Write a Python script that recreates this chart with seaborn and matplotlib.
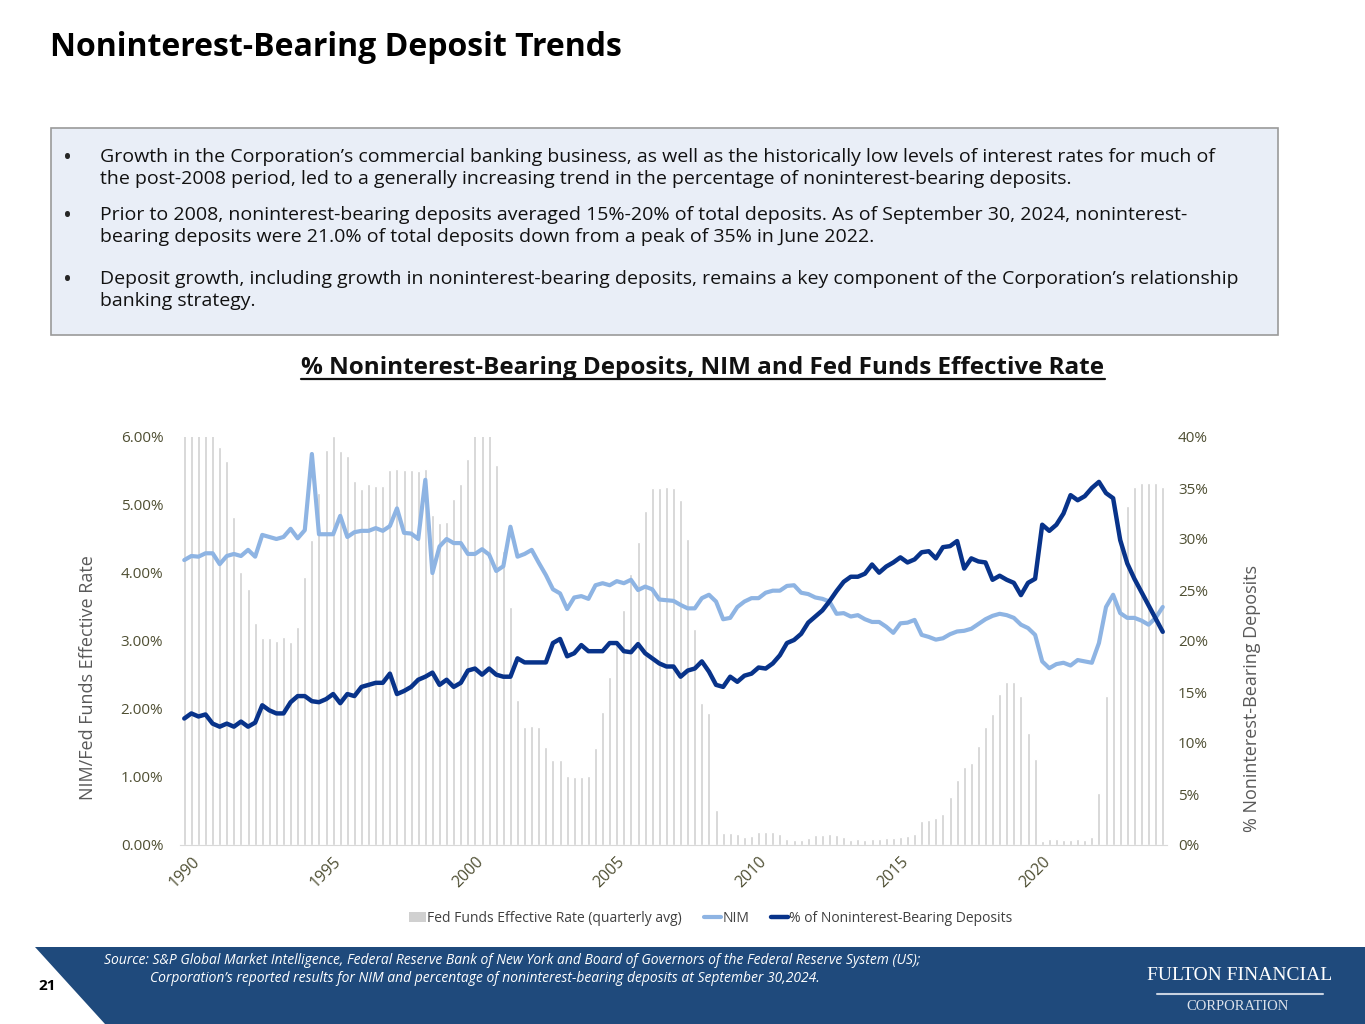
import numpy as np
import pandas as pd
import matplotlib
matplotlib.use("Agg")
import matplotlib.pyplot as plt
from matplotlib.patches import Polygon, Rectangle, Patch
from matplotlib.lines import Line2D
import seaborn as sns

# quarterly data, 1990 Q1 .. 2024 Q3
fed_funds = [
    8.25, 8.24, 8.16, 7.74, 6.43, 5.86, 5.64, 4.82, 4.02, 3.77, 3.26, 3.04,
    3.04, 3.00, 3.06, 2.99, 3.21, 3.94, 4.49, 5.17, 5.81, 6.02, 5.80, 5.72,
    5.36, 5.24, 5.31, 5.28, 5.28, 5.52, 5.53, 5.51, 5.52, 5.50, 5.53, 4.86,
    4.73, 4.75, 5.09, 5.31, 5.68, 6.27, 6.52, 6.47, 5.59, 4.33, 3.50, 2.13,
    1.73, 1.75, 1.74, 1.44, 1.25, 1.25, 1.02, 1.00, 1.00, 1.01, 1.43, 1.95,
    2.47, 2.94, 3.46, 3.98, 4.46, 4.91, 5.25, 5.25, 5.26, 5.25, 5.07, 4.50,
    3.18, 2.09, 1.94, 0.51, 0.18, 0.18, 0.16, 0.12, 0.13, 0.19, 0.19, 0.19,
    0.16, 0.09, 0.08, 0.07, 0.10, 0.15, 0.14, 0.16, 0.14, 0.12, 0.08, 0.09,
    0.07, 0.09, 0.09, 0.10, 0.11, 0.12, 0.13, 0.16, 0.36, 0.37, 0.39, 0.45,
    0.70, 0.95, 1.15, 1.20, 1.45, 1.74, 1.92, 2.22, 2.40, 2.40, 2.19, 1.64,
    1.26, 0.06, 0.09, 0.09, 0.08, 0.07, 0.09, 0.08, 0.12, 0.77, 2.19, 3.65,
    4.52, 4.99, 5.26, 5.33, 5.33, 5.33, 5.26,
]
nim = [
    4.19, 4.25, 4.24, 4.29, 4.29, 4.13, 4.25, 4.28, 4.25, 4.34, 4.24, 4.56,
    4.53, 4.50, 4.53, 4.65, 4.51, 4.63, 5.75, 4.57, 4.57, 4.57, 4.84, 4.53,
    4.60, 4.62, 4.62, 4.66, 4.62, 4.69, 4.95, 4.59, 4.58, 4.50, 5.37, 4.00,
    4.39, 4.50, 4.44, 4.44, 4.28, 4.28, 4.35, 4.27, 4.03, 4.10, 4.68, 4.24,
    4.28, 4.34, 4.15, 3.97, 3.76, 3.70, 3.47, 3.64, 3.66, 3.62, 3.82, 3.85,
    3.82, 3.88, 3.85, 3.90, 3.75, 3.80, 3.76, 3.61, 3.60, 3.59, 3.53, 3.48,
    3.48, 3.63, 3.68, 3.58, 3.32, 3.34, 3.50, 3.58, 3.63, 3.63, 3.71, 3.74,
    3.74, 3.81, 3.82, 3.71, 3.69, 3.64, 3.62, 3.58, 3.40, 3.41, 3.36, 3.38,
    3.32, 3.28, 3.28, 3.21, 3.12, 3.26, 3.27, 3.31, 3.09, 3.06, 3.02, 3.04,
    3.10, 3.14, 3.15, 3.18, 3.25, 3.32, 3.37, 3.40, 3.38, 3.34, 3.24, 3.19,
    3.09, 2.70, 2.60, 2.66, 2.68, 2.64, 2.72, 2.70, 2.68, 2.97, 3.50, 3.68,
    3.41, 3.34, 3.34, 3.30, 3.24, 3.34, 3.50,
]
nib_deposits = [
    12.4, 12.9, 12.6, 12.8, 11.9, 11.6, 11.9, 11.6, 12.1, 11.6, 12.0, 13.7,
    13.2, 12.9, 12.9, 14.0, 14.6, 14.6, 14.1, 14.0, 14.3, 14.8, 13.9, 14.8,
    14.6, 15.5, 15.7, 15.9, 15.9, 16.8, 14.8, 15.1, 15.5, 16.2, 16.5, 16.9,
    15.7, 16.2, 15.5, 15.9, 17.1, 17.3, 16.7, 17.3, 16.7, 16.5, 16.5, 18.3,
    17.9, 17.9, 17.9, 17.9, 19.8, 20.2, 18.5, 18.8, 19.6, 19.0, 19.0, 19.0,
    19.8, 19.8, 19.0, 18.9, 19.7, 18.8, 18.3, 17.8, 17.5, 17.5, 16.5, 17.1,
    17.3, 18.0, 17.0, 15.7, 15.5, 16.5, 16.0, 16.6, 16.8, 17.4, 17.3, 17.8,
    18.6, 19.8, 20.1, 20.7, 21.8, 22.4, 23.0, 23.9, 24.9, 25.8, 26.3, 26.3,
    26.6, 27.5, 26.7, 27.3, 27.7, 28.2, 27.7, 28.0, 28.7, 28.8, 28.1, 29.2,
    29.3, 29.8, 27.1, 28.1, 27.8, 27.7, 26.0, 26.4, 26.0, 25.7, 24.5, 25.7,
    26.1, 31.4, 30.8, 31.4, 32.5, 34.3, 33.8, 34.2, 35.0, 35.6, 34.5, 34.0,
    29.9, 27.6, 26.1, 24.8, 23.5, 22.2, 20.9,
]
year_labels = ["1990", "1995", "2000", "2005", "2010", "2015", "2020"]

bullets = [
    "Growth in the Corporation\u2019s commercial banking business, as well as the historically low levels of interest rates for much of\n"
    "the post-2008 period, led to a generally increasing trend in the percentage of noninterest-bearing deposits.",
    "Prior to 2008, noninterest-bearing deposits averaged 15%-20% of total deposits. As of September 30, 2024, noninterest-\n"
    "bearing deposits were 21.0% of total deposits down from a peak of 35% in June 2022.",
    "Deposit growth, including growth in noninterest-bearing deposits, remains a key component of the Corporation\u2019s relationship\n"
    "banking strategy.",
]

df = pd.DataFrame({
    "q": np.arange(len(fed_funds)),
    "fed": fed_funds,
    "nim": nim,
    "dep": nib_deposits,
})

sns.set_style("white")
plt.rcParams["font.family"] = ["Open Sans", "DejaVu Sans"]

W, H = 1365, 1024
fig = plt.figure(figsize=(W / 100, H / 100), dpi=100)


def fx(px):
    return px / W


def fy(py):
    return 1 - py / H


# page title
fig.text(fx(50), fy(47), "Noninterest-Bearing Deposit Trends", fontsize=23,
         fontweight="bold", color="black", va="center", ha="left")

# bullet box
fig.add_artist(Rectangle((fx(51), fy(335)), fx(1278) - fx(51), fy(128) - fy(335),
                         transform=fig.transFigure, facecolor="#E9EEF7",
                         edgecolor="#9A9A9A", linewidth=1.2))
for txt, ymid in zip(bullets, [159, 217, 281]):
    fig.text(fx(63), fy(ymid), "\u2022", fontsize=17, va="center", ha="left")
    fig.text(fx(100), fy(ymid - 11), txt, fontsize=14, va="top", ha="left",
             linespacing=1.3, color="#111111")

# chart title (underlined)
ctitle = fig.text(fx(703), fy(368), "% Noninterest-Bearing Deposits, NIM and Fed Funds Effective Rate",
                  fontsize=17.5, fontweight="bold", ha="center", va="center", color="#111111")

# chart
ax = fig.add_axes([fx(180), fy(845), fx(1167) - fx(180), fy(437) - fy(845)])
sns.barplot(data=df, x="q", y="fed", color="#D0D0D0", width=0.42, ax=ax,
            saturation=1, native_scale=True)
sns.lineplot(data=df, x="q", y="nim", color="#8EB4E3", linewidth=3.0, ax=ax)
ax.set_xlim(-0.6, len(fed_funds) - 0.4)
ax.set_ylim(0, 6)
ax.set_yticks(np.arange(0, 7, 1))
ax.set_yticklabels([f"{v:.2f}%" for v in np.arange(0, 7, 1)])

ax2 = ax.twinx()
sns.lineplot(data=df, x="q", y="dep", color="#08338A", linewidth=3.2, ax=ax2)
ax2.set_ylim(0, 40)
ax2.set_yticks(np.arange(0, 45, 5))
ax2.set_yticklabels([f"{v}%" for v in range(0, 45, 5)])

tick_col = "#4F4F33"
ax.set_xticks(np.arange(0, len(fed_funds), 20))
ax.set_xticklabels(year_labels, rotation=45, ha="center", va="top")
for a in (ax, ax2):
    for s in ["top", "left", "right"]:
        a.spines[s].set_visible(False)
    a.spines["bottom"].set_color("#D9D9D9")
    a.grid(False)
ax2.spines["bottom"].set_visible(False)
ax.tick_params(axis="x", colors="#D9D9D9", labelcolor=tick_col, labelsize=11.5,
               length=3, direction="out", pad=3)
ax.tick_params(axis="y", length=0, labelcolor=tick_col, labelsize=11, pad=12)
ax2.tick_params(axis="y", length=0, labelcolor=tick_col, labelsize=11, pad=8)

ax.set_xlabel("")
ax.set_ylabel("NIM/Fed Funds Effective Rate", fontsize=13, color="#595959")
ax.yaxis.set_label_coords(-0.084, 0.41)
ax2.set_ylabel("% Noninterest-Bearing Deposits", fontsize=13, color="#595959")
ax2.yaxis.set_label_coords(1.077, 0.358)

handles = [
    Patch(facecolor="#D0D0D0", edgecolor="none"),
    Line2D([0], [0], color="#8EB4E3", linewidth=3.0),
    Line2D([0], [0], color="#08338A", linewidth=3.2),
]
labels = ["Fed Funds Effective Rate (quarterly avg)", "NIM", "% of Noninterest-Bearing Deposits"]
leg = fig.legend(handles, labels, loc="center", bbox_to_anchor=(fx(711), fy(918)),
                 ncol=3, frameon=False, fontsize=10, handlelength=1.2,
                 handletextpad=0.1, columnspacing=1.6)
for t in leg.get_texts():
    t.set_color("#404040")

# footer band
fig.add_artist(Polygon([(fx(35), fy(947)), (1, fy(947)), (1, 0), (fx(105), 0)],
                       closed=True, transform=fig.transFigure,
                       facecolor="#1F4A7C", edgecolor="none"))
fig.text(fx(104), fy(961), "Source: S&P Global Market Intelligence, Federal Reserve Bank of New York and Board of Governors of the Federal Reserve System (US);",
         fontsize=10, style="italic", color="white", va="center", ha="left")
fig.text(fx(150), fy(978), "Corporation\u2019s reported results for NIM and percentage of noninterest-bearing deposits at September 30,2024.",
         fontsize=10, style="italic", color="white", va="center", ha="left")
fig.text(fx(38), fy(986), "21", fontsize=11, fontweight="bold", color="black",
         va="center", ha="left")

# logo
fig.text(fx(1240), fy(975), "FULTON FINANCIAL", family="Liberation Serif", fontsize=14,
         color="white", ha="center", va="center")
fig.add_artist(Line2D([fx(1157), fx(1323)], [fy(994), fy(994)], color="#C8D2E0",
                      linewidth=1.5, transform=fig.transFigure))
fig.text(fx(1238), fy(1006), "CORPORATION", family="Liberation Serif", fontsize=10.5,
         color="#DDE3EC", ha="center", va="center")

# underline under chart title
fig.canvas.draw()
bb = ctitle.get_window_extent().transformed(fig.transFigure.inverted())
fig.add_artist(Line2D([bb.x0, bb.x1], [bb.y0 + 0.001, bb.y0 + 0.001], color="#111111",
                      linewidth=1.6, transform=fig.transFigure))

fig.savefig("out.png", dpi=100)
